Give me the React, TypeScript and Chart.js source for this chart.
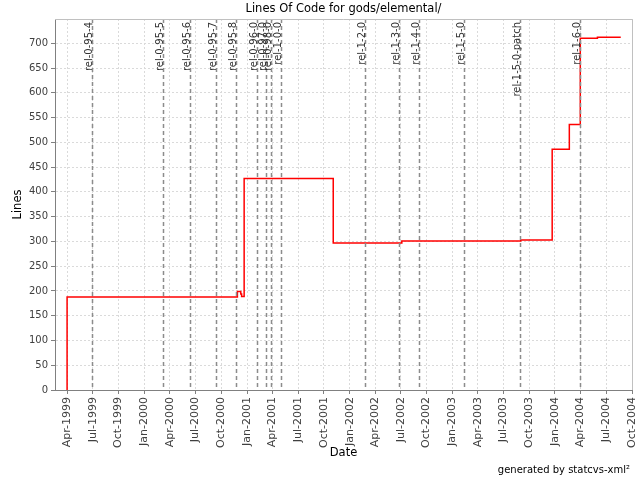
import React, { useEffect, useRef } from 'react';
import { Chart, registerables } from 'chart.js';

Chart.register(...registerables);

const chartTitle = 'Lines Of Code for gods/elemental/';
const xTitle = 'Date';
const yTitle = 'Lines';
const footerText = 'generated by statcvs-xml²';

// LOC step series (value takes effect from its date)
const stepDates = [
  '1999-04-01', '1999-04-01', '2000-11-27', '2000-12-09', '2000-12-12', '2000-12-21',
  '2001-11-03', '2002-07-05', '2003-09-01', '2003-12-22', '2004-02-21', '2004-03-31',
  '2004-05-31', '2004-08-22',
];
const stepLines = [0, 188, 199, 194, 189, 427, 297, 301, 303, 486, 536, 710, 712, 712];

const releaseNames = [
  'rel-0-95-4', 'rel-0-95-5', 'rel-0-95-6', 'rel-0-95-7', 'rel-0-95-8', 'rel-0-96-0',
  'rel-0-97-0', 'rel-0-98-0', 'rel-1-0-0', 'rel-1-2-0', 'rel-1-3-0', 'rel-1-4-0',
  'rel-1-5-0', 'rel-1-5-0-patch', 'rel-1-6-0',
];
const releaseDates = [
  '1999-06-27', '2000-03-09', '2000-06-12', '2000-09-12', '2000-11-22', '2001-02-06',
  '2001-03-09', '2001-03-26', '2001-05-01', '2002-02-24', '2002-06-24', '2002-09-03',
  '2003-02-11', '2003-08-31', '2004-03-31',
];

const xTickDates = [
  '1999-04-01', '1999-07-01', '1999-10-01', '2000-01-01', '2000-04-01', '2000-07-01',
  '2000-10-01', '2001-01-01', '2001-04-01', '2001-07-01', '2001-10-01', '2002-01-01',
  '2002-04-01', '2002-07-01', '2002-10-01', '2003-01-01', '2003-04-01', '2003-07-01',
  '2003-10-01', '2004-01-01', '2004-04-01', '2004-07-01', '2004-10-01',
];
const monthNames = ['Jan', 'Feb', 'Mar', 'Apr', 'May', 'Jun', 'Jul', 'Aug', 'Sep', 'Oct', 'Nov', 'Dec'];

const xMinDate = '1999-02-17';
const xMaxDate = '2004-10-01';
const yMin = 0;
const yMax = 749;
const yStep = 50;
const yTickMax = 700;

const FONT = '"DejaVu Sans", sans-serif';

const ts = (s: string) => Date.UTC(+s.slice(0, 4), +s.slice(5, 7) - 1, +s.slice(8, 10));
const fmt = (v: number) => {
  const d = new Date(v);
  return monthNames[d.getUTCMonth()] + '-' + d.getUTCFullYear();
};

const decorPlugin = {
  id: 'decor',
  beforeDraw(chart: any) {
    const ctx = chart.ctx;
    ctx.save();
    ctx.fillStyle = '#ffffff';
    ctx.fillRect(0, 0, chart.width, chart.height);
    ctx.restore();
  },
  afterDatasetsDraw(chart: any) {
    const ctx = chart.ctx;
    const { top, bottom, left, right } = chart.chartArea;
    const xs = chart.scales.x;
    ctx.save();
    releaseDates.forEach((d, i) => {
      const x = Math.round(xs.getPixelForValue(ts(d))) + 0.5;
      ctx.strokeStyle = '#8c8c8c';
      ctx.lineWidth = 1.5;
      ctx.setLineDash([4, 3]);
      ctx.beginPath();
      ctx.moveTo(x, top);
      ctx.lineTo(x, bottom);
      ctx.stroke();
      ctx.setLineDash([]);
      ctx.save();
      ctx.translate(x - 1, top + 3);
      ctx.rotate(-Math.PI / 2);
      ctx.font = '10px ' + FONT;
      ctx.fillStyle = '#333333';
      ctx.textAlign = 'right';
      ctx.textBaseline = 'alphabetic';
      ctx.fillText(releaseNames[i], 0, 0);
      ctx.restore();
    });
    // outline top / right
    ctx.strokeStyle = '#c0c0c0';
    ctx.lineWidth = 1;
    ctx.beginPath();
    ctx.moveTo(left, top + 0.5);
    ctx.lineTo(right + 0.5, top + 0.5);
    ctx.lineTo(right + 0.5, bottom);
    ctx.stroke();
    ctx.restore();
  },
  afterDraw(chart: any) {
    const ctx = chart.ctx;
    const { top, bottom, left, right } = chart.chartArea;
    ctx.save();
    ctx.fillStyle = '#000000';
    ctx.textAlign = 'center';
    ctx.textBaseline = 'middle';
    ctx.font = '11.5px ' + FONT;
    ctx.fillText(chartTitle, (left + right) / 2, 9);
    ctx.font = '11.5px ' + FONT;
    ctx.fillText(xTitle, (left + right) / 2, 453);
    ctx.save();
    ctx.translate(18, (top + bottom) / 2);
    ctx.rotate(-Math.PI / 2);
    ctx.fillText(yTitle, 0, 0);
    ctx.restore();
    ctx.font = '10px ' + FONT;
    ctx.textAlign = 'right';
    ctx.fillText(footerText, 630, 470);
    ctx.restore();
  },
};

export default function App() {
  const ref = useRef<HTMLCanvasElement | null>(null);
  useEffect(() => {
    document.body.style.margin = '0';
    const canvas = ref.current;
    if (!canvas) return;
    const data = stepDates.map((d, i) => ({ x: ts(d), y: stepLines[i] }));
    const chart = new Chart(canvas, {
      type: 'line',
      data: {
        datasets: [
          {
            label: 'Lines',
            data,
            borderColor: '#ff0000',
            borderWidth: 1.5,
            pointRadius: 0,
            stepped: 'before',
            fill: false,
          },
        ],
      },
      options: {
        responsive: false,
        animation: false,
        devicePixelRatio: 1,
        layout: { padding: { top: 19, right: 8, left: 0, bottom: 0 } },
        plugins: {
          legend: { display: false },
          tooltip: { enabled: false },
          title: { display: false },
        },
        scales: {
          x: {
            type: 'linear',
            min: ts(xMinDate),
            max: ts(xMaxDate),
            afterBuildTicks: (scale: any) => {
              scale.ticks = xTickDates.map((d) => ({ value: ts(d) }));
            },
            afterFit: (scale: any) => {
              scale.height = 90;
              scale.paddingLeft = 0;
              scale.paddingRight = 0;
            },
            ticks: {
              autoSkip: false,
              minRotation: 90,
              maxRotation: 90,
              padding: 3,
              color: '#404040',
              font: { family: FONT, size: 11 },
              callback: (v: any) => fmt(Number(v)),
            },
            grid: {
              color: '#dadada',
              lineWidth: 1,
              tickLength: 4,
              tickColor: '#808080',
              tickBorderDash: [],
              borderDash: [2, 2],
            } as any,
            border: { display: true, color: '#808080', width: 1, dash: [2, 2] },
          },
          y: {
            type: 'linear',
            min: yMin,
            max: yMax,
            afterBuildTicks: (scale: any) => {
              const t = [];
              for (let v = yMin; v <= yTickMax; v += yStep) t.push({ value: v });
              scale.ticks = t;
            },
            afterFit: (scale: any) => {
              scale.width = 55;
              scale.paddingTop = 0;
              scale.paddingBottom = 0;
            },
            ticks: {
              padding: 3,
              color: '#404040',
              font: { family: FONT, size: 10 },
            },
            grid: {
              color: '#dadada',
              lineWidth: 1,
              tickLength: 4,
              tickColor: '#808080',
              tickBorderDash: [],
              borderDash: [2, 2],
            } as any,
            border: { display: true, color: '#808080', width: 1, dash: [2, 2] },
          },
        },
      },
      plugins: [decorPlugin],
    });
    return () => chart.destroy();
  }, []);
  return (
    <div style={{ width: 640, height: 480 }}>
      <canvas ref={ref} width={640} height={480} />
    </div>
  );
}
